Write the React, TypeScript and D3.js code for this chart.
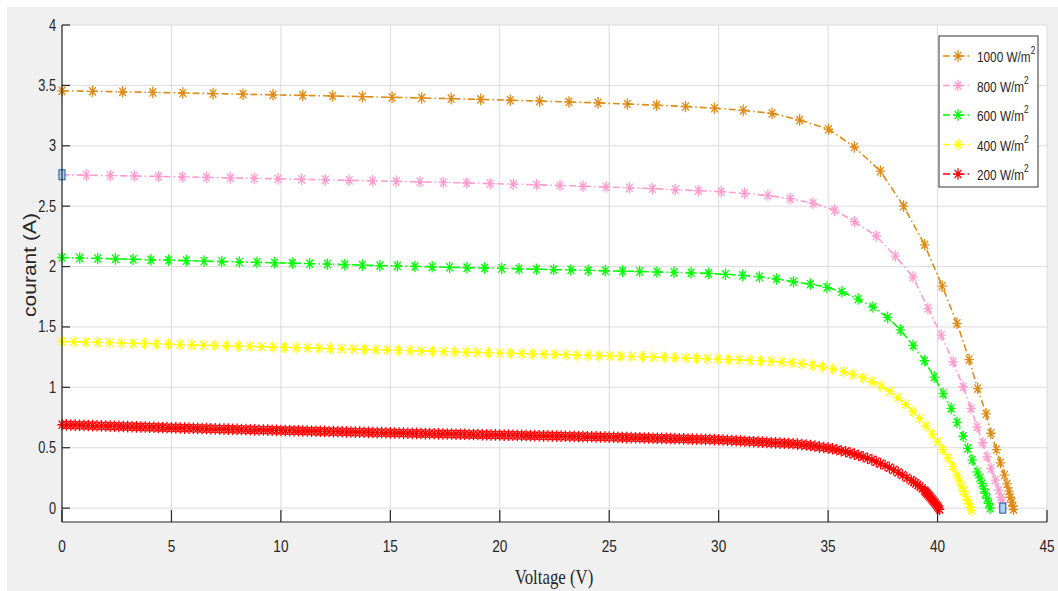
import React from 'react';
import * as d3 from 'd3';

const W = 1058;
const H = 591;

const xTicks = [0, 5, 10, 15, 20, 25, 30, 35, 40, 45];
const yTicks = [0, 0.5, 1, 1.5, 2, 2.5, 3, 3.5, 4];
const xTickLabels = ['0', '5', '10', '15', '20', '25', '30', '35', '40', '45'];
const yTickLabels = ['0', '0.5', '1', '1.5', '2', '2.5', '3', '3.5', '4'];

const seriesNames = ['1000', '800', '600', '400', '200'];
const seriesColors = ['#DE8A14', '#FF9BCD', '#00FF00', '#FFFF00', '#FF0000'];

// 1000 W/m2
const v1000 = [0, 1.39, 2.77, 4.15, 5.52, 6.9, 8.27, 9.64, 11.0, 12.36, 13.72, 15.08, 16.43, 17.78, 19.13, 20.48, 21.82, 23.16, 24.49, 25.83, 27.16, 28.49, 29.81,
  31.12, 32.44, 33.7, 35.02, 36.2, 37.39, 38.45, 39.41, 40.21, 40.89, 41.44, 41.83, 42.22, 42.44, 42.69, 42.87, 43.05, 43.17, 43.26, 43.33, 43.39, 43.44, 43.47];
const i1000 = [3.455, 3.451, 3.447, 3.442, 3.437, 3.432, 3.427, 3.422, 3.417, 3.412, 3.407, 3.401, 3.396, 3.39, 3.384, 3.377, 3.37, 3.363, 3.355, 3.346, 3.336, 3.325, 3.311,
  3.293, 3.268, 3.213, 3.137, 2.99, 2.79, 2.5, 2.18, 1.838, 1.53, 1.23, 0.99, 0.78, 0.62, 0.485, 0.375, 0.273, 0.2, 0.14, 0.09, 0.05, 0.015, -0.01];

// 800 W/m2
const v800 = [0, 1.11, 2.21, 3.31, 4.41, 5.5, 6.6, 7.69, 8.78, 9.87, 10.95, 12.03, 13.12, 14.19, 15.27, 16.35, 17.42, 18.49, 19.56, 20.62, 21.68, 22.75, 23.8, 24.86, 25.92, 26.97, 28.02, 29.07, 30.12,
  31.18, 32.25, 33.27, 34.31, 35.3, 36.21, 37.2, 38.07, 38.88, 39.56, 40.17, 40.71, 41.17, 41.53, 41.81, 42.06, 42.26, 42.44, 42.64, 42.79, 42.9, 42.95, 42.98];
const i800 = [2.76, 2.757, 2.753, 2.75, 2.746, 2.742, 2.738, 2.734, 2.73, 2.726, 2.722, 2.718, 2.714, 2.71, 2.705, 2.701, 2.697, 2.692, 2.687, 2.682, 2.677, 2.671, 2.665, 2.659, 2.652, 2.645, 2.637, 2.629, 2.62,
  2.606, 2.588, 2.562, 2.525, 2.467, 2.371, 2.253, 2.087, 1.913, 1.654, 1.433, 1.212, 1.005, 0.826, 0.673, 0.541, 0.425, 0.329, 0.232, 0.149, 0.09, 0.045, 0.0];

// 600 W/m2
const v600 = [0, 0.81, 1.63, 2.44, 3.25, 4.06, 4.87, 5.68, 6.49, 7.3, 8.1, 8.91, 9.71, 10.52, 11.32, 12.12, 12.92, 13.72, 14.52, 15.32, 16.12, 16.91, 17.71, 18.5, 19.3, 20.09, 20.88, 21.67, 22.46, 23.25, 24.04, 24.82, 25.61, 26.39, 27.18, 27.96, 28.74, 29.53, 30.31, 31.09, 31.86, 32.64, 33.42,
  34.19, 34.95, 35.63, 36.37, 37.05, 37.72, 38.3, 38.88, 39.4, 39.85, 40.25, 40.62, 40.89, 41.17, 41.38, 41.58, 41.81, 41.93, 42.03, 42.11, 42.18, 42.26, 42.34, 42.4];
const i600 = [2.075, 2.071, 2.067, 2.064, 2.06, 2.056, 2.053, 2.049, 2.045, 2.042, 2.038, 2.035, 2.031, 2.028, 2.024, 2.02, 2.016, 2.012, 2.008, 2.005, 2.001, 1.998, 1.994, 1.991, 1.988, 1.985, 1.981, 1.978, 1.975, 1.972, 1.968, 1.965, 1.962, 1.959, 1.955, 1.952, 1.948, 1.943, 1.936, 1.927, 1.914, 1.897, 1.874,
  1.855, 1.828, 1.791, 1.731, 1.665, 1.579, 1.475, 1.347, 1.22, 1.085, 0.95, 0.826, 0.71, 0.595, 0.494, 0.398, 0.3, 0.25, 0.204, 0.16, 0.122, 0.08, 0.039, 0.0];

// 400 W/m2
const v400 = [0, 0.54, 1.09, 1.63, 2.17, 2.71, 3.25, 3.78, 4.32, 4.86, 5.39, 5.93, 6.46, 6.99, 7.52, 8.05, 8.58, 9.11, 9.64, 10.17, 10.69, 11.22, 11.74, 12.26, 12.78, 13.31, 13.83, 14.34, 14.86, 15.38, 15.9, 16.41, 16.93, 17.44, 17.95, 18.46, 18.97, 19.48, 19.99, 20.5, 21.01, 21.51, 22.02, 22.52, 23.02, 23.53, 24.03, 24.53, 25.03, 25.53, 26.02, 26.52, 27.01, 27.51, 28.0, 28.5, 28.99, 29.48, 29.97, 30.46, 30.94, 31.43, 31.92, 32.4, 32.89,
  33.35, 33.8, 34.29, 34.75, 35.22, 35.71, 36.14, 36.6, 37.0, 37.42, 37.81, 38.18, 38.53, 38.88, 39.18, 39.47, 39.75, 40.0, 40.23, 40.48, 40.69, 40.89, 41.0, 41.1, 41.19, 41.28, 41.36, 41.43, 41.49, 41.55];
const i400 = [1.38, 1.377, 1.375, 1.372, 1.37, 1.367, 1.364, 1.362, 1.359, 1.357, 1.354, 1.352, 1.349, 1.346, 1.344, 1.341, 1.339, 1.336, 1.334, 1.331, 1.329, 1.326, 1.324, 1.321, 1.319, 1.316, 1.314, 1.311, 1.309, 1.306, 1.304, 1.301, 1.299, 1.296, 1.294, 1.291, 1.289, 1.286, 1.284, 1.282, 1.279, 1.277, 1.274, 1.272, 1.27, 1.267, 1.265, 1.262, 1.26, 1.257, 1.255, 1.253, 1.25, 1.248, 1.245, 1.243, 1.24, 1.237, 1.234, 1.23, 1.227, 1.223, 1.219, 1.215, 1.211,
  1.205, 1.196, 1.184, 1.17, 1.152, 1.13, 1.106, 1.078, 1.048, 1.01, 0.966, 0.915, 0.86, 0.8, 0.742, 0.68, 0.615, 0.55, 0.485, 0.415, 0.345, 0.275, 0.225, 0.18, 0.14, 0.1, 0.065, 0.035, 0.01, -0.02];

// 200 W/m2 (dense sampling)
const v200 = [
  0, 0.2, 0.4, 0.6, 0.8, 1.0, 1.2, 1.4, 1.6, 1.8, 2.0, 2.2, 2.4, 2.6, 2.8, 3.0, 3.2, 3.4, 3.6, 3.8, 4.0, 4.2, 4.4, 4.6, 4.8, 5.0,
  5.2, 5.4, 5.6, 5.8, 6.0, 6.2, 6.4, 6.6, 6.8, 7.0, 7.2, 7.4, 7.6, 7.8, 8.0, 8.2, 8.4, 8.6, 8.8, 9.0, 9.2, 9.4, 9.6, 9.8, 10.0,
  10.2, 10.4, 10.6, 10.8, 11.0, 11.2, 11.4, 11.6, 11.8, 12.0, 12.2, 12.4, 12.6, 12.8, 13.0, 13.2, 13.4, 13.6, 13.8, 14.0, 14.2, 14.4, 14.6, 14.8, 15.0,
  15.2, 15.4, 15.6, 15.8, 16.0, 16.2, 16.4, 16.6, 16.8, 17.0, 17.2, 17.4, 17.6, 17.8, 18.0, 18.2, 18.4, 18.6, 18.8, 19.0, 19.2, 19.4, 19.6, 19.8, 20.0,
  20.2, 20.4, 20.6, 20.8, 21.0, 21.2, 21.4, 21.6, 21.8, 22.0, 22.2, 22.4, 22.6, 22.8, 23.0, 23.2, 23.4, 23.6, 23.8, 24.0, 24.2, 24.4, 24.6, 24.8, 25.0,
  25.2, 25.4, 25.6, 25.8, 26.0, 26.2, 26.4, 26.6, 26.8, 27.0, 27.2, 27.4, 27.6, 27.8, 28.0, 28.2, 28.4, 28.6, 28.8, 29.0, 29.2, 29.4, 29.6, 29.8, 30.0,
  30.2, 30.4, 30.6, 30.8, 31.0, 31.2, 31.4, 31.6, 31.8, 32.0, 32.2, 32.4, 32.6, 32.8,
  33.0, 33.2, 33.4, 33.6, 33.8, 34.0, 34.2, 34.4, 34.6, 34.8, 35.0, 35.2, 35.4, 35.6, 35.8, 36.0, 36.2, 36.4, 36.6, 36.8, 37.0, 37.2, 37.4, 37.6, 37.8, 38.0, 38.2, 38.4, 38.6, 38.8,
  38.9, 39.0, 39.1, 39.2, 39.3, 39.4, 39.45, 39.5, 39.55, 39.6, 39.65, 39.7, 39.75, 39.8, 39.85, 39.9, 39.95, 40.0, 40.05, 40.1];
const i200 = [
  0.69, 0.689, 0.688, 0.687, 0.686, 0.685, 0.684, 0.683, 0.682, 0.681, 0.68, 0.679, 0.678, 0.677, 0.676, 0.675, 0.674, 0.673, 0.672, 0.671, 0.67, 0.669, 0.668, 0.667, 0.666, 0.665,
  0.664, 0.663, 0.662, 0.662, 0.661, 0.66, 0.659, 0.658, 0.657, 0.656, 0.655, 0.654, 0.654, 0.653, 0.652, 0.651, 0.65, 0.649, 0.648, 0.647, 0.647, 0.646, 0.645, 0.644, 0.643,
  0.642, 0.641, 0.641, 0.64, 0.639, 0.638, 0.637, 0.637, 0.636, 0.635, 0.634, 0.633, 0.633, 0.632, 0.631, 0.63, 0.629, 0.629, 0.628, 0.627, 0.626, 0.625, 0.625, 0.624, 0.623,
  0.622, 0.622, 0.621, 0.62, 0.619, 0.619, 0.618, 0.617, 0.617, 0.616, 0.615, 0.614, 0.614, 0.613, 0.612, 0.612, 0.611, 0.61, 0.609, 0.609, 0.608, 0.607, 0.606, 0.606, 0.605,
  0.604, 0.604, 0.603, 0.602, 0.602, 0.601, 0.6, 0.6, 0.599, 0.598, 0.598, 0.597, 0.596, 0.596, 0.595, 0.594, 0.593, 0.593, 0.592, 0.591, 0.591, 0.59, 0.589, 0.589, 0.588,
  0.587, 0.586, 0.585, 0.584, 0.584, 0.583, 0.582, 0.581, 0.58, 0.579, 0.578, 0.577, 0.577, 0.576, 0.575, 0.574, 0.573, 0.572, 0.571, 0.57, 0.57, 0.569, 0.568, 0.567, 0.566,
  0.564, 0.562, 0.56, 0.558, 0.556, 0.554, 0.552, 0.55, 0.548, 0.546, 0.544, 0.542, 0.54, 0.538,
  0.537, 0.535, 0.533, 0.53, 0.526, 0.522, 0.518, 0.513, 0.507, 0.502, 0.497, 0.491, 0.483, 0.475, 0.467, 0.457, 0.447, 0.436, 0.425, 0.413, 0.399, 0.385, 0.369, 0.353, 0.335, 0.316, 0.296, 0.274, 0.252, 0.229,
  0.218, 0.205, 0.192, 0.178, 0.164, 0.146, 0.136, 0.126, 0.116, 0.105, 0.095, 0.084, 0.073, 0.061, 0.05, 0.038, 0.026, 0.014, 0.002, -0.01];

// data-cursor tips (on the 800 W/m2 curve)
const tipV = [0, 42.98];
const tipI = [2.76, 0.0];

const seriesV = [v1000, v800, v600, v400, v200];
const seriesI = [i1000, i800, i600, i400, i200];

const PLOT = { left: 62, right: 1047, top: 25, bottom: 522 };
const SX = 0.8; // horizontal text compression seen in the reference

function asterisk(x: number, y: number, rx = 4.7, ry = 5.8) {
  const dx = rx * 0.72, dy = ry * 0.72;
  return `M${x - rx},${y}H${x + rx}M${x},${y - ry}V${y + ry}M${x - dx},${y - dy}L${x + dx},${y + dy}M${x - dx},${y + dy}L${x + dx},${y - dy}`;
}

function Txt(props: { x: number; y: number; anchor?: string; size: number; family: string; fill?: string; children: React.ReactNode; rotate?: number; sx?: number }) {
  const { x, y, anchor = 'start', size, family, fill = '#262626', children, rotate = 0, sx = SX } = props;
  const tf = rotate ? `translate(${x},${y}) rotate(${rotate}) scale(1,${sx})` : `translate(${x},${y}) scale(${sx},1)`;
  return (
    <text transform={tf} textAnchor={anchor} fontSize={size} fontFamily={family} fill={fill}>
      {children}
    </text>
  );
}

export default function App() {
  const x = d3.scaleLinear().domain([0, 45]).range([PLOT.left, PLOT.right]);
  const y = d3.scaleLinear().domain([-0.115, 4]).range([PLOT.bottom, PLOT.top]);

  const line = d3.line<[number, number]>().x(d => x(d[0])).y(d => y(d[1]));

  const sans = "'Liberation Sans', Arial, Helvetica, sans-serif";
  const serif = "'Liberation Serif', 'Times New Roman', serif";

  const legendX = 939, legendY = 36, legendW = 99, legendH = 151;
  const rowY = (k: number) => 56 + k * 29.5;

  return (
    <svg width={W} height={H} style={{ position: 'absolute', left: 0, top: 0 }} xmlns="http://www.w3.org/2000/svg">
      <rect x={0} y={0} width={W} height={H} fill="#ffffff" />
      <rect x={7} y={7} width={W - 7} height={H - 7} fill="#f0f0f0" />
      <rect x={PLOT.left} y={PLOT.top} width={PLOT.right - PLOT.left} height={PLOT.bottom - PLOT.top} fill="#ffffff" />

      {/* grid */}
      {xTicks.map(t => (
        <line key={'gx' + t} x1={x(t)} x2={x(t)} y1={PLOT.top} y2={PLOT.bottom} stroke="#dcdcdc" strokeWidth={1} />
      ))}
      {yTicks.map(t => (
        <line key={'gy' + t} x1={PLOT.left} x2={PLOT.right} y1={y(t)} y2={y(t)} stroke="#dcdcdc" strokeWidth={1} />
      ))}

      {/* series */}
      {seriesV.map((vs, s) => {
        const pts: [number, number][] = vs.map((v, k) => [v, seriesI[s][k]]);
        const markers = pts.map(p => asterisk(x(p[0]), y(p[1]))).join('');
        return (
          <g key={'s' + s}>
            <path d={line(pts) || ''} fill="none" stroke={seriesColors[s]} strokeWidth={1.6} strokeDasharray="7,3,1.5,3" />
            <path d={markers} fill="none" stroke={seriesColors[s]} strokeWidth={1.3} />
          </g>
        );
      })}

      {/* data tips */}
      {tipV.map((v, k) => (
        <rect key={'tip' + k} x={x(v) - 3} y={y(tipI[k]) - 5} width={6} height={10} fill="#a9d6f5" stroke="#1c5d9e" strokeWidth={1} />
      ))}

      {/* axes */}
      <line x1={PLOT.left} x2={PLOT.left} y1={PLOT.top} y2={PLOT.bottom} stroke="#262626" strokeWidth={1.2} />
      <line x1={PLOT.left} x2={PLOT.right} y1={PLOT.bottom} y2={PLOT.bottom} stroke="#262626" strokeWidth={1.2} />
      {xTicks.map(t => (
        <line key={'tx' + t} x1={x(t)} x2={x(t)} y1={PLOT.bottom} y2={PLOT.bottom - 12} stroke="#262626" strokeWidth={1.2} />
      ))}
      {yTicks.map(t => (
        <line key={'ty' + t} x1={PLOT.left} x2={PLOT.left + 8} y1={y(t)} y2={y(t)} stroke="#262626" strokeWidth={1.2} />
      ))}
      {xTicks.map((t, k) => (
        <Txt key={'lx' + t} x={x(t)} y={552} anchor="middle" size={17} family={sans}>{xTickLabels[k]}</Txt>
      ))}
      {yTicks.map((t, k) => (
        <Txt key={'ly' + t} x={56} y={y(t) + 5.5} anchor="end" size={16} family={sans}>{yTickLabels[k]}</Txt>
      ))}

      <Txt x={554} y={584} anchor="middle" size={21} family={serif}>Voltage (V)</Txt>
      <Txt x={36} y={265} anchor="middle" size={21} family={sans} rotate={-90} sx={0.85}>courant (A)</Txt>

      {/* legend */}
      <rect x={legendX} y={legendY} width={legendW} height={legendH} fill="#ffffff" stroke="#333333" strokeWidth={1} />
      {seriesNames.map((n, k) => (
        <g key={'lg' + k}>
          <line x1={943} x2={972} y1={rowY(k)} y2={rowY(k)} stroke={seriesColors[k]} strokeWidth={1.6} strokeDasharray="7,3,1.5,3" />
          <path d={asterisk(958, rowY(k))} fill="none" stroke={seriesColors[k]} strokeWidth={1.3} />
          <Txt x={977} y={rowY(k) + 6} size={15.5} family={sans} sx={0.76}>
            {n + ' W/m'}
            <tspan fontSize={11} dy={-8}>2</tspan>
          </Txt>
        </g>
      ))}
    </svg>
  );
}
